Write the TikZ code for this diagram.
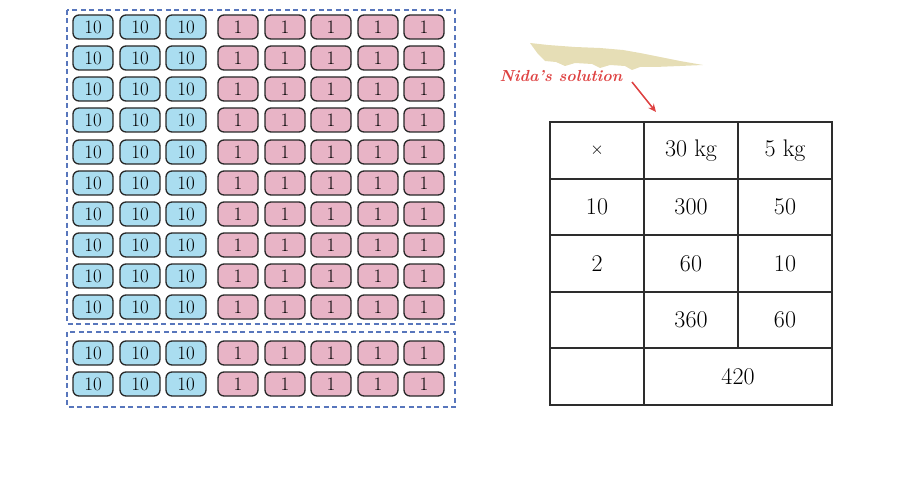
\documentclass[tikz,border=0pt]{standalone}
\usetikzlibrary{arrows.meta}
\definecolor{chipblue}{RGB}{170,221,240}
\definecolor{chippink}{RGB}{232,180,198}
\definecolor{chipline}{RGB}{40,40,40}
\definecolor{boxblue}{RGB}{88,118,188}
\definecolor{nidared}{RGB}{222,66,66}
\definecolor{brush}{RGB}{230,222,182}
\definecolor{tabline}{RGB}{45,45,45}
\begin{document}
\begin{tikzpicture}[x=1pt,y=-1pt,
  chip/.style={draw=chipline,line width=1.3pt,rounded corners=6pt,minimum width=40pt,minimum height=24pt,inner sep=0pt,font=\fontsize{19}{19}\selectfont},
  tenchip/.style={chip,fill=chipblue},
  onechip/.style={chip,fill=chippink},
  groupbox/.style={draw=boxblue,line width=1.8pt,dash pattern=on 5pt off 3.5pt},
  cell/.style={minimum width=94pt,minimum height=56.6pt,inner sep=0pt,font=\fontsize{24}{24}\selectfont},
  tabrule/.style={draw=tabline,line width=1.6pt},
  note/.style={text=nidared,font=\fontsize{16}{16}\selectfont\bfseries\itshape}]
\useasboundingbox (0,0) rectangle (923,484);
% group boxes
\draw[groupbox] (67,10) rectangle (455,324);
\draw[groupbox] (67,332) rectangle (455,407);
% chips
\foreach \r/\y in {1/27,2/58,3/89,4/120,5/152,6/183,7/214,8/245,9/276,10/307,11/353,12/384}{
  \foreach \c/\x in {1/93,2/140,3/186}{
    \node[tenchip] (t-\r-\c) at (\x,\y) {10};
  }
  \foreach \c/\x in {1/238,2/285,3/331,4/378,5/424}{
    \node[onechip] (o-\r-\c) at (\x,\y) {1};
  }
}
% brush stroke
\fill[brush] (530,43) -- (548,45) -- (575,47) -- (600,48) -- (623,50) -- (640,53)
  -- (660,57) -- (680,61) -- (703,65) -- (680,66) -- (655,67) -- (640,67)
  -- (632,70) -- (625,66) -- (610,65) -- (600,68) -- (592,64) -- (575,63)
  -- (565,66) -- (556,62) -- (545,61) -- (538,54) -- cycle;
% note
\node[note,anchor=west] (nida) at (496,76) {Nida's solution};
\coordinate (arrS) at (632,82);
\coordinate (arrE) at (656,112);
\draw[nidared,line width=1.5pt,-{Stealth[length=8pt,width=7pt]}] (arrS) -- (arrE);
% table
\draw[tabrule] (550,122) rectangle (832,405);
\foreach \y in {179,235,292,348}{
  \draw[tabrule] (550,\y) -- (832,\y);
}
\draw[tabrule] (644,122) -- (644,405);
\draw[tabrule] (738,122) -- (738,348);
\foreach \r/\y in {1/150.5,2/207,3/263.5,4/320}{
  \foreach \c/\x in {1/597,2/691,3/785}{
    \node[cell] (c-\r-\c) at (\x,\y) {};
  }
}
\node[cell] (c-5-1) at (597,376.5) {};
\node[cell,minimum width=188pt] (c-5-2) at (738,376.5) {};
\node[font=\fontsize{17}{17}\selectfont] at (c-1-1) {$\times$};
\node[cell] at (c-1-2) {30 kg};
\node[cell] at (c-1-3) {5 kg};
\node[cell] at (c-2-1) {10};
\node[cell] at (c-2-2) {300};
\node[cell] at (c-2-3) {50};
\node[cell] at (c-3-1) {2};
\node[cell] at (c-3-2) {60};
\node[cell] at (c-3-3) {10};
\node[cell] at (c-4-2) {360};
\node[cell] at (c-4-3) {60};
\node[cell] at (c-5-2) {420};
\end{tikzpicture}
\end{document}
